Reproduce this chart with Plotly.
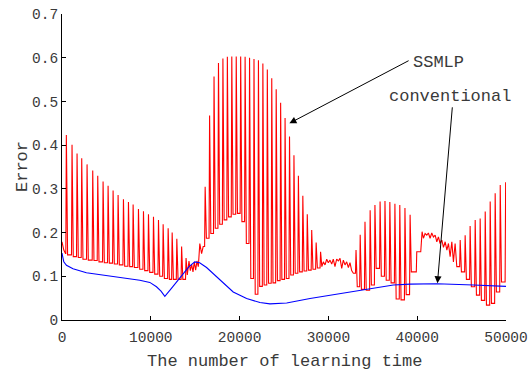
import plotly.graph_objects as go

# ---------------- data ----------------
x_ticks = [0, 10000, 20000, 30000, 40000, 50000]
x_tick_labels = ["0", "10000", "20000", "30000", "40000", "50000"]
y_ticks = [0, 0.1, 0.2, 0.3, 0.4, 0.5, 0.6, 0.7]
y_tick_labels = ["0", "0.1", "0.2", "0.3", "0.4", "0.5", "0.6", "0.7"]

# conventional (blue)
conv_x = [0, 200, 500, 1240, 2750, 4250, 5750, 7260, 8760, 9890, 10640, 11150, 11580,
          12300, 13300, 14300, 14960, 15500, 16280, 17780, 19280, 20790, 22290, 23420,
          25300, 27930, 31690, 34690, 37320, 39200, 42210, 46340, 50000]
conv_y = [0.153, 0.133, 0.125, 0.117, 0.108, 0.104, 0.100, 0.096, 0.091, 0.086, 0.076, 0.066, 0.054,
          0.072, 0.097, 0.122, 0.133, 0.131, 0.120, 0.091, 0.064, 0.049, 0.040, 0.037,
          0.039, 0.049, 0.062, 0.072, 0.080, 0.082, 0.083, 0.080, 0.077]

# SSMLP (red): start, spike groups (position, top, value after spike), noisy stretches
ss_start_x = [0, 200, 390]
ss_start_y = [0.179, 0.160, 0.152]

spk_a_x = [490, 1130, 1695, 2221, 2822, 3461, 4025, 4626, 5190, 5753, 6317, 6919, 7483,
           8009, 8610, 9174, 9738, 10302, 10865, 11390, 11954, 12405, 12930, 13470, 13970]
spk_a_top = [0.423, 0.401, 0.381, 0.370, 0.356, 0.342, 0.330, 0.317, 0.307, 0.296, 0.286, 0.276, 0.270,
             0.264, 0.254, 0.249, 0.242, 0.236, 0.229, 0.219, 0.210, 0.200, 0.186, 0.168, 0.142]
spk_a_base = [0.149, 0.145, 0.143, 0.139, 0.137, 0.136, 0.133, 0.131, 0.130, 0.128, 0.126, 0.123, 0.122,
              0.120, 0.116, 0.113, 0.109, 0.105, 0.100, 0.095, 0.093, 0.093, 0.093, 0.093, 0.103]

noise1_x = [14300, 14450, 14600, 14750, 14900, 15050, 15200, 15350, 15520, 15720, 15900]
noise1_y = [0.135, 0.113, 0.127, 0.110, 0.133, 0.114, 0.135, 0.122, 0.175, 0.152, 0.168]

spk_b_x = [16120, 16620, 17120, 17620, 18120, 18620, 19120, 19620, 20120, 20620, 21120, 21620, 22120,
           22620, 23120, 23620, 24120, 24620, 25120, 25620, 26120, 26620, 27120, 27620, 28120, 28620, 29120]
spk_b_top = [0.305, 0.468, 0.557, 0.588, 0.598, 0.602, 0.603, 0.603, 0.603, 0.602, 0.600, 0.597, 0.594,
             0.587, 0.573, 0.553, 0.528, 0.497, 0.462, 0.420, 0.377, 0.330, 0.284, 0.242, 0.206, 0.177, 0.156]
spk_b_base = [0.187, 0.198, 0.210, 0.219, 0.229, 0.236, 0.242, 0.244, 0.225, 0.175, 0.095, 0.059, 0.077,
              0.080, 0.084, 0.085, 0.090, 0.093, 0.095, 0.103, 0.107, 0.110, 0.112, 0.114, 0.116, 0.119, 0.122]

noise2_x = [29430, 29620, 29810, 29990, 30180, 30370, 30550, 30740, 30930, 31120, 31310, 31500,
            31680, 31870, 32060, 32250, 32430, 32620, 32810]
noise2_y = [0.133, 0.126, 0.139, 0.131, 0.137, 0.128, 0.139, 0.122, 0.139, 0.135, 0.141, 0.118,
            0.137, 0.126, 0.133, 0.120, 0.131, 0.113, 0.107]

spk_c_x = [33110, 33580, 34120, 34700, 35240, 35820, 36370, 36920, 37490, 38040, 38620, 39200]
spk_c_top = [0.160, 0.195, 0.225, 0.251, 0.263, 0.271, 0.272, 0.270, 0.266, 0.263, 0.256, 0.241]
spk_c_base = [0.076, 0.070, 0.068, 0.080, 0.118, 0.100, 0.091, 0.085, 0.048, 0.046, 0.058, 0.110]

noise3_x = [39900, 39950, 40400, 40550, 40700, 40890, 41080, 41260, 41450, 41640, 41830, 42020, 42210,
            42390, 42580, 42770, 42960, 43150, 43340, 43520, 43710, 43900, 44080, 44270, 44460]
noise3_y = [0.110, 0.156, 0.156, 0.202, 0.187, 0.198, 0.194, 0.199, 0.187, 0.199, 0.190, 0.194, 0.179,
            0.190, 0.175, 0.183, 0.166, 0.179, 0.160, 0.175, 0.145, 0.179, 0.133, 0.175, 0.122]

spk_d_x = [44840, 45400, 45960, 46530, 47090, 47660, 48220, 48780, 49350, 49960]
spk_d_top = [0.183, 0.194, 0.215, 0.229, 0.232, 0.248, 0.271, 0.290, 0.309, 0.315]
spk_d_base = [0.110, 0.093, 0.076, 0.057, 0.045, 0.034, 0.038, 0.064, 0.087]

# ---------------- build red path ----------------
rx, ry = list(ss_start_x), list(ss_start_y)


def add_spikes(xs, tops, bases, rise=60, fall=140):
    for i, (x, t) in enumerate(zip(xs, tops)):
        rx.append(x - rise); ry.append(ry[-1])
        rx.append(x); ry.append(t)
        if i < len(bases):
            rx.append(x + fall); ry.append(bases[i])


def add_noise(xs, ys):
    rx.extend(xs); ry.extend(ys)


add_spikes(spk_a_x, spk_a_top, spk_a_base)
add_noise(noise1_x, noise1_y)
add_spikes(spk_b_x, spk_b_top, spk_b_base)
add_noise(noise2_x, noise2_y)
add_spikes(spk_c_x, spk_c_top, spk_c_base)
add_noise(noise3_x, noise3_y)
add_spikes(spk_d_x, spk_d_top, spk_d_base)

FONT = "Liberation Mono, Courier New, monospace"
TXT = "#3a3a3a"

fig = go.Figure()
fig.add_trace(go.Scatter(x=rx, y=ry, mode="lines", line=dict(color="#ff0000", width=1.1),
                         name="SSMLP", showlegend=False))
fig.add_trace(go.Scatter(x=conv_x, y=conv_y, mode="lines", line=dict(color="#0000ff", width=1.1),
                         name="conventional", showlegend=False))

axis_common = dict(showgrid=False, zeroline=False, showline=True, linecolor="black", linewidth=1,
                   ticks="inside", ticklen=4, tickcolor="black", tickwidth=1, automargin=False,
                   tickfont=dict(family=FONT, size=14.5, color=TXT), mirror=False)

fig.update_xaxes(range=[0, 50000], tickvals=x_ticks, ticktext=x_tick_labels,
                 ticklabelstandoff=4, **axis_common)
fig.update_yaxes(range=[0, 0.7], tickvals=y_ticks, ticktext=y_tick_labels, **axis_common)

annots = [
    # arrows (tip at x,y; tail at ax,ay)
    dict(x=25610, y=0.450, ax=39200, ay=0.595, xref="x", yref="y", axref="x", ayref="y",
         text="", showarrow=True, arrowhead=2, arrowsize=1.4, arrowwidth=1, arrowcolor="black"),
    dict(x=42280, y=0.084, ax=43970, ay=0.490, xref="x", yref="y", axref="x", ayref="y",
         text="", showarrow=True, arrowhead=2, arrowsize=1.4, arrowwidth=1, arrowcolor="black"),
    dict(x=39300, y=0.588, xref="x", yref="y", text="SSMLP", showarrow=False,
         xanchor="left", yanchor="middle", font=dict(family=FONT, size=17, color=TXT)),
    dict(x=36650, y=0.511, xref="x", yref="y", text="conventional", showarrow=False,
         xanchor="left", yanchor="middle", font=dict(family=FONT, size=17, color=TXT)),
    # axis titles
    dict(x=0.5, y=0, xref="paper", yref="paper", yshift=-41, text="The number of learning time",
         showarrow=False, xanchor="center", yanchor="middle", font=dict(family=FONT, size=17, color=TXT)),
    dict(x=0, y=0.5, xref="paper", yref="paper", xshift=-40, text="Error", textangle=-90,
         showarrow=False, xanchor="center", yanchor="middle", font=dict(family=FONT, size=17, color=TXT)),
]

fig.update_layout(width=530, height=372, margin=dict(l=62, r=24, t=14, b=52, autoexpand=False),
                  paper_bgcolor="white", plot_bgcolor="white", annotations=annots,
                  showlegend=False)

fig.write_html("out.html", config={"displayModeBar": False},
               post_script="document.body.style.margin='0';"
                           "document.documentElement.style.overflow='hidden';")
